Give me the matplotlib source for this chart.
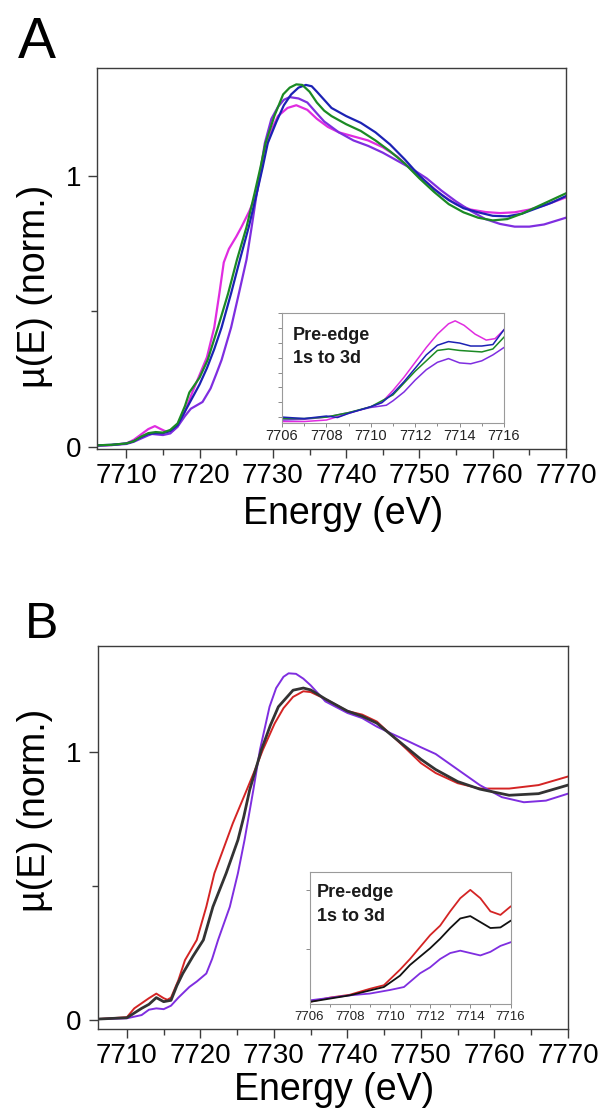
import numpy as np
import matplotlib
matplotlib.use("Agg")
import matplotlib.pyplot as plt
from matplotlib.ticker import MultipleLocator

plt.rcParams['font.family'] = ['Liberation Sans', 'DejaVu Sans']

# ---- panel A, main spectra (energy eV, normalized mu) ----
a_mag_e = [7706, 7708, 7710, 7711, 7712, 7713, 7713.9, 7714.7, 7715.5, 7716.3, 7717, 7718, 7719, 7720,
           7721, 7722, 7722.7, 7723.3, 7724, 7725, 7725.7, 7726.8, 7727.8, 7728.5, 7729, 7730, 7730.7,
           7732, 7733.2, 7734.7, 7736, 7737.5, 7739, 7741, 7743, 7745, 7747, 7749, 7751, 7753, 7755,
           7757, 7759, 7761, 7763, 7765, 7767, 7770]
a_mag_mu = [0.004, 0.006, 0.012, 0.025, 0.045, 0.065, 0.076, 0.065, 0.055, 0.058, 0.074, 0.13, 0.20, 0.265,
            0.33, 0.44, 0.566, 0.68, 0.73, 0.775, 0.81, 0.87, 0.935, 1.03, 1.10, 1.18, 1.22,
            1.25, 1.26, 1.243, 1.21, 1.18, 1.16, 1.145, 1.13, 1.105, 1.07, 1.02, 0.975, 0.93, 0.895,
            0.875, 0.866, 0.862, 0.865, 0.875, 0.89, 0.92]

a_grn_e = [7706, 7708, 7710, 7711, 7712, 7713, 7714, 7715, 7716, 7717, 7718, 7718.6, 7720, 7721.1, 7722.5,
           7723.9, 7725.1, 7726.4, 7727.5, 7728.3, 7729, 7730.2, 7731.4, 7732.3, 7733.2, 7734, 7735,
           7736, 7737, 7738, 7740, 7742, 7744, 7746, 7748, 7750, 7752, 7754, 7756, 7758, 7760,
           7762, 7764, 7766, 7768, 7770]
a_grn_mu = [0.005, 0.007, 0.012, 0.02, 0.037, 0.05, 0.054, 0.052, 0.062, 0.086, 0.15, 0.20, 0.255, 0.32, 0.44,
            0.566, 0.69, 0.81, 0.935, 1.03, 1.12, 1.22, 1.30, 1.325, 1.337, 1.335, 1.31,
            1.27, 1.24, 1.22, 1.19, 1.165, 1.13, 1.09, 1.045, 0.99, 0.94, 0.895, 0.865, 0.845, 0.835,
            0.84, 0.86, 0.885, 0.91, 0.935]

a_blu_e = [7706, 7708, 7710, 7711, 7712, 7713, 7714, 7715, 7716, 7717, 7718, 7719, 7720, 7721, 7722,
           7723, 7724.3, 7725.5, 7726.7, 7727.8, 7728.6, 7729.3, 7730.5, 7731.5, 7732.5, 7733.5, 7734.5,
           7735.3, 7736, 7737, 7738, 7740, 7742, 7744, 7746, 7748, 7750, 7752, 7754, 7756, 7758, 7760,
           7762, 7764, 7766, 7768, 7770]
a_blu_mu = [0.005, 0.007, 0.012, 0.02, 0.035, 0.047, 0.05, 0.05, 0.058, 0.08, 0.13, 0.18, 0.23, 0.29, 0.36,
            0.44, 0.566, 0.69, 0.81, 0.935, 1.03, 1.12, 1.20, 1.26, 1.30, 1.325, 1.335,
            1.33, 1.31, 1.28, 1.25, 1.22, 1.195, 1.16, 1.115, 1.06, 1.0, 0.95, 0.91, 0.88, 0.865, 0.852,
            0.85, 0.86, 0.88, 0.90, 0.925]

a_vio_e = [7706, 7708, 7710, 7711, 7712, 7713, 7713.5, 7715, 7716, 7717, 7718, 7718.8, 7720.4, 7721.5,
           7722.3, 7723, 7724.3, 7725.4, 7726.4, 7727.1, 7727.8, 7728.9, 7729.8, 7730.7, 7731.5, 7732.3,
           7733.5, 7734.7, 7736, 7737, 7739, 7741, 7743, 7745, 7747, 7749, 7751, 7753, 7755,
           7757, 7759, 7761, 7763, 7765, 7767, 7770]
a_vio_mu = [0.004, 0.006, 0.01, 0.018, 0.03, 0.042, 0.047, 0.043, 0.049, 0.074, 0.113, 0.14, 0.165, 0.215,
            0.27, 0.32, 0.44, 0.57, 0.69, 0.81, 0.935, 1.12, 1.21, 1.254, 1.28, 1.29,
            1.285, 1.27, 1.23, 1.20, 1.16, 1.13, 1.11, 1.085, 1.055, 1.025, 0.99, 0.945, 0.905,
            0.87, 0.84, 0.822, 0.812, 0.812, 0.82, 0.845]

# ---- panel A, pre-edge inset ----
ia_mag_e = [7706, 7707, 7708, 7709, 7710, 7710.5, 7711, 7711.5, 7712, 7712.5, 7713, 7713.5, 7713.8,
            7714.2, 7714.7, 7715.2, 7715.6, 7716]
ia_mag_mu = [-0.003, -0.003, -0.002, 0.0025, 0.007, 0.010, 0.018, 0.027, 0.037, 0.047, 0.056, 0.063,
             0.065, 0.062, 0.056, 0.052, 0.053, 0.059]
ia_blu_e = [7706, 7706.5, 7707, 7708, 7708.5, 7709, 7710, 7710.5, 7711, 7711.5, 7712, 7712.5, 7713,
            7713.5, 7714, 7714.5, 7715, 7715.5, 7716]
ia_blu_mu = [0.0, -0.0005, -0.001, 0.0007, -0.0003, 0.0025, 0.007, 0.0097, 0.016, 0.024, 0.033, 0.042,
             0.0485, 0.051, 0.050, 0.048, 0.048, 0.049, 0.059]
ia_grn_e = [7706, 7707, 7708, 7709, 7710, 7711, 7712, 7712.5, 7713, 7713.5, 7714, 7715, 7715.5, 7716]
ia_grn_mu = [-0.001, -0.001, 0.0, 0.003, 0.007, 0.015, 0.031, 0.038, 0.045, 0.046, 0.045, 0.044, 0.046, 0.054]
ia_vio_e = [7706, 7707, 7708, 7709, 7710, 7710.7, 7711, 7711.5, 7712, 7712.5, 7713, 7713.5, 7714,
            7714.5, 7715, 7715.5, 7716]
ia_vio_mu = [-0.002, -0.0015, 0.0, 0.003, 0.0065, 0.008, 0.011, 0.017, 0.025, 0.032, 0.037, 0.0395,
             0.0366, 0.036, 0.038, 0.042, 0.047]

# ---- panel B, main spectra ----
b_red_e = [7706, 7710, 7711, 7712, 7713, 7714, 7715, 7715.5, 7716, 7717, 7717.9, 7719.5, 7720.8, 7721.9,
           7722.9, 7724.4, 7726.3, 7727.5, 7728.5, 7730.1, 7731.3, 7732.6, 7734, 7735, 7737, 7740, 7742,
           7744, 7746, 7748, 7750, 7752, 7755, 7758, 7762, 7766, 7770]
b_red_mu = [0.005, 0.012, 0.045, 0.064, 0.083, 0.10, 0.083, 0.077, 0.085, 0.15, 0.225, 0.30, 0.424, 0.549,
            0.623, 0.735, 0.86, 0.94, 1.01, 1.108, 1.165, 1.207, 1.228, 1.225, 1.199, 1.154, 1.141,
            1.115, 1.064, 1.013, 0.96, 0.923, 0.885, 0.865, 0.865, 0.878, 0.91]
b_blk_e = [7706, 7710, 7712, 7713, 7714, 7715, 7716, 7716.8, 7717.6, 7719, 7720.4, 7721.7, 7723.5, 7725.1,
           7725.9, 7726.7, 7728.3, 7729.5, 7730.6, 7732.6, 7734, 7735, 7737, 7740, 7742, 7744, 7746,
           7748, 7750, 7752, 7755, 7758, 7762, 7766, 7770]
b_blk_mu = [0.005, 0.01, 0.045, 0.06, 0.085, 0.07, 0.075, 0.13, 0.175, 0.24, 0.30, 0.424, 0.549, 0.673,
            0.76, 0.86, 1.01, 1.10, 1.17, 1.232, 1.24, 1.233, 1.199, 1.154, 1.135, 1.109, 1.064,
            1.019, 0.974, 0.936, 0.891, 0.863, 0.84, 0.846, 0.878]
b_vio_e = [7706, 7710, 7712, 7713, 7714, 7715, 7716, 7717, 7718.5, 7719.5, 7720.8, 7721.6, 7722.4, 7724,
           7725.1, 7726, 7727.2, 7728.1, 7729.4, 7730.3, 7731.3, 7732, 7733, 7734, 7735, 7737, 7740,
           7742, 7744, 7746, 7748, 7750, 7752, 7755, 7758, 7761, 7764, 7767, 7770]
b_vio_mu = [0.005, 0.008, 0.02, 0.04, 0.045, 0.042, 0.055, 0.085, 0.125, 0.145, 0.175, 0.23, 0.30, 0.424,
            0.549, 0.673, 0.86, 1.01, 1.17, 1.24, 1.282, 1.295, 1.293, 1.275, 1.25, 1.19, 1.147,
            1.128, 1.096, 1.07, 1.045, 1.019, 0.994, 0.936, 0.878, 0.833, 0.814, 0.82, 0.846]

# ---- panel B, pre-edge inset ----
ib_red_e = [7706, 7707, 7708, 7709, 7709.7, 7710.5, 7711, 7711.5, 7712, 7712.5, 7713, 7713.5, 7714,
            7714.5, 7715, 7715.5, 7716]
ib_red_mu = [0.006, 0.0096, 0.012, 0.017, 0.02, 0.033, 0.042, 0.052, 0.062, 0.070, 0.082, 0.093, 0.10,
             0.093, 0.082, 0.079, 0.086]
ib_blk_e = [7706, 7708, 7709.7, 7710.5, 7711, 7711.5, 7712, 7712.5, 7713, 7713.5, 7714, 7714.5, 7715,
            7715.5, 7716]
ib_blk_mu = [0.006, 0.0115, 0.0185, 0.028, 0.037, 0.044, 0.051, 0.059, 0.068, 0.076, 0.078, 0.073, 0.068,
             0.0685, 0.074]
ib_vio_e = [7706, 7708, 7709, 7710, 7710.7, 7711.5, 7712, 7712.5, 7713, 7713.5, 7714, 7714.5, 7715,
            7715.5, 7716]
ib_vio_mu = [0.0073, 0.0115, 0.013, 0.016, 0.0185, 0.03, 0.035, 0.042, 0.047, 0.049, 0.047, 0.045, 0.048,
             0.053, 0.056]

MAG, BLU, GRN, VIO = '#e02ce0', '#1c22b4', '#1b8a24', '#7f2ee0'
RED, BLK = '#d42424', '#333333'
FRAME = '#3c3c3c'


def main_axes(fig, rect, ylim, label_y, xlabel_x, xlabel_y):
    ax = fig.add_axes(rect)
    ax.set_xlim(7706, 7770)
    ax.set_ylim(*ylim)
    ax.xaxis.set_major_locator(MultipleLocator(10))
    ax.xaxis.set_minor_locator(MultipleLocator(5))
    ax.set_yticks([0, 1])
    ax.yaxis.set_minor_locator(MultipleLocator(0.5))
    ax.tick_params(which='both', direction='out', color=FRAME, width=1.0, top=False, right=False)
    ax.tick_params(which='major', length=6.5, labelsize=20, pad=3.5)
    ax.tick_params(axis='y', which='major', pad=5)
    ax.tick_params(which='minor', length=4)
    for s in ax.spines.values():
        s.set_color(FRAME)
        s.set_linewidth(1.0)
    ax.set_xlabel('Energy (eV)', fontsize=27)
    ax.set_ylabel('\u00b5(E) (norm.)', fontsize=27)
    ax.xaxis.set_label_coords(xlabel_x, xlabel_y)
    ax.yaxis.set_label_coords(-0.094, label_y)
    return ax


def inset_axes(fig, rect, ylim, step, fs):
    ax = fig.add_axes(rect)
    ax.set_xlim(7706, 7716)
    ax.set_ylim(*ylim)
    ax.xaxis.set_major_locator(MultipleLocator(2))
    ax.xaxis.set_minor_locator(MultipleLocator(1))
    ax.yaxis.set_major_locator(MultipleLocator(step))
    ax.set_yticklabels([])
    ax.tick_params(which='both', direction='out', color='#8a8a8a', width=0.7, top=False, right=False)
    ax.tick_params(which='major', length=3, labelsize=fs, pad=1.5, labelcolor='#222222')
    ax.tick_params(which='minor', length=2)
    for s in ax.spines.values():
        s.set_color('#9a9a9a')
        s.set_linewidth(0.8)
    return ax


fig = plt.figure(figsize=(6.03, 11.09), dpi=100)
W, H = 603.0, 1109.0

# panel A
axA = main_axes(fig, [97 / W, 1 - 449 / H, 469 / W, 381.3 / H], (-0.0085, 1.3985), 0.426, 0.524, -0.122)
axA.plot(a_mag_e, a_mag_mu, color=MAG, lw=1.6)
axA.plot(a_vio_e, a_vio_mu, color=VIO, lw=1.6)
axA.plot(a_blu_e, a_blu_mu, color=BLU, lw=1.6)
axA.plot(a_grn_e, a_grn_mu, color=GRN, lw=1.6)
fig.text(18 / W, 1 - 58 / H, 'A', fontsize=41, va='baseline', ha='left')

insA = inset_axes(fig, [282 / W, 1 - 423 / H, 222 / W, 110 / H], (-0.004, 0.0703), 0.01, 10.5)
insA.plot(ia_mag_e, ia_mag_mu, color=MAG, lw=1.1)
insA.plot(ia_vio_e, ia_vio_mu, color=VIO, lw=1.1)
insA.plot(ia_grn_e, ia_grn_mu, color=GRN, lw=1.1)
insA.plot(ia_blu_e, ia_blu_mu, color=BLU, lw=1.1)
insA.text(0.05, 0.875, 'Pre-edge', transform=insA.transAxes, fontsize=13, fontweight='bold',
          va='top', ha='left', color='#1a1a1a')
insA.text(0.05, 0.66, '1s to 3d', transform=insA.transAxes, fontsize=13, fontweight='bold',
          va='top', ha='left', color='#1a1a1a')

# panel B
axB = main_axes(fig, [97.5 / W, 1 - 1029 / H, 470.5 / W, 383.3 / H], (-0.032, 1.398), 0.57, 0.503, -0.113)
axB.plot(b_red_e, b_red_mu, color=RED, lw=1.4)
axB.plot(b_vio_e, b_vio_mu, color=VIO, lw=1.4)
axB.plot(b_blk_e, b_blk_mu, color=BLK, lw=2.0)
fig.text(25 / W, 1 - 638 / H, 'B', fontsize=36, va='baseline', ha='left')

insB = inset_axes(fig, [309.5 / W, 1 - 1004.3 / H, 201 / W, 132.3 / H], (0.004, 0.115), 0.05, 9.5)
insB.plot(ib_red_e, ib_red_mu, color=RED, lw=1.3)
insB.plot(ib_vio_e, ib_vio_mu, color=VIO, lw=1.3)
insB.plot(ib_blk_e, ib_blk_mu, color='#111111', lw=1.3)
insB.text(0.037, 0.91, 'Pre-edge', transform=insB.transAxes, fontsize=13, fontweight='bold',
          va='top', ha='left', color='#1a1a1a')
insB.text(0.037, 0.73, '1s to 3d', transform=insB.transAxes, fontsize=13, fontweight='bold',
          va='top', ha='left', color='#1a1a1a')

fig.savefig('out.png', dpi=100)
